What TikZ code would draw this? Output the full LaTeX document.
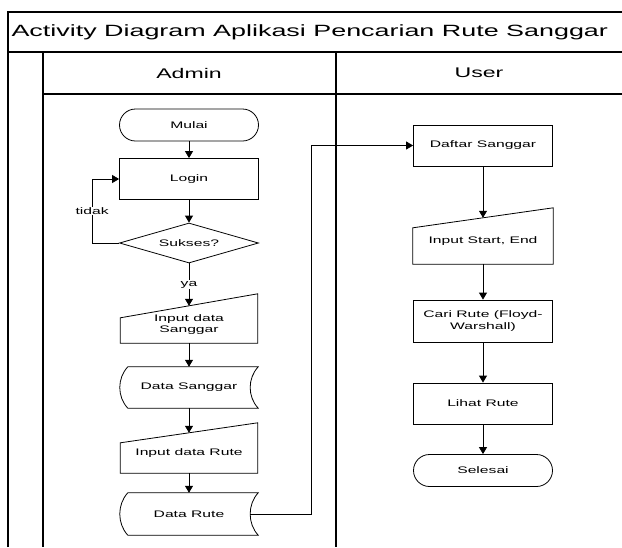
\documentclass[tikz,border=0pt]{standalone}
\usepackage{fontspec}
\newfontfamily\diagfont[FakeStretch=1.65]{Liberation Sans}
\usetikzlibrary{shapes.geometric, arrows.meta, positioning, calc}

% outlines for the flowchart symbols TikZ has no shape for
\newcommand{\manualin}[2]{\draw[line width=0.8pt] ([yshift=-#2]#1.north west) -- ([yshift=#2]#1.north east) -- (#1.south east) -- (#1.south west) -- cycle;}
\newcommand{\storedata}[1]{\draw[line width=0.8pt] ([xshift=8pt]#1.north west) -- (#1.north east) .. controls ([xshift=-10.7pt, yshift=-11.6pt]#1.north east) and ([xshift=-10.7pt, yshift=11.6pt]#1.south east) .. (#1.south east) -- ([xshift=8pt]#1.south west) .. controls ([xshift=-2.7pt, yshift=11.6pt]#1.south west) and ([xshift=-2.7pt, yshift=-11.6pt]#1.north west) .. ([xshift=8pt]#1.north west) -- cycle;}

\begin{document}
\begin{tikzpicture}[
    x=1pt, y=-1pt,
    font=\diagfont\fontsize{9.5pt}{11.5pt}\selectfont,
    lane/.style={line width=1.2pt},
    proc/.style={draw, rectangle, minimum width=139pt, minimum height=41pt, align=center, line width=0.8pt, inner sep=1pt},
    term/.style={draw, rectangle, rounded corners=16pt, minimum width=139pt, minimum height=32pt, line width=0.8pt},
    decision/.style={draw, diamond, aspect=3.5, minimum width=139pt, minimum height=40pt, inner sep=0pt, line width=0.8pt},
    manin/.style={rectangle, minimum width=137pt, align=center, inner sep=1pt},
    store/.style={rectangle, minimum width=138pt, minimum height=41pt, inner sep=1pt},
    arrow/.style={-{Triangle[width=8pt,length=7pt]}, line width=0.8pt},
    lbl/.style={fill=white, inner sep=1pt},
]
\useasboundingbox (0,0) rectangle (622,547);

% Swimlane frame
\draw[lane] (8,547) -- (8,12) -- (622,12);
\draw[lane] (8,52) -- (622,52);
\draw[lane] (43,52) -- (43,547);
\draw[lane] (336,52) -- (336,547);
\draw[lane] (43,94) -- (622,94);

% Headers
\node[anchor=west, font=\diagfont\fontsize{16.3pt}{19pt}\selectfont] (title) at (8,32) {Activity Diagram Aplikasi Pencarian Rute Sanggar};
\node[font=\diagfont\fontsize{14pt}{16pt}\selectfont] (admin) at (189,73) {Admin};
\node[font=\diagfont\fontsize{14pt}{16pt}\selectfont] (user) at (479,73) {User};

% Admin
\node[term] (mulai) at (189,125) {Mulai};
\node[proc] (login) at (189,179) {Login};
\node[decision] (sukses) at (189,243) {Sukses?};
\node[manin, minimum height=37pt] (indata) at (189,324.5) {Input data\\Sanggar};
\node[store] (datasgr) at (189,387.5) {Data Sanggar};
\node[manin, minimum height=40pt] (inrute) at (189,453) {Input data Rute};
\node[store, minimum height=42pt] (datarute) at (189,514) {Data Rute};

% User
\node[proc] (daftar) at (483,145.5) {Daftar Sanggar};
\node[manin, minimum width=140pt, minimum height=46pt] (inse) at (483,241) {Input Start, End};
\node[proc, minimum height=42pt] (cari) at (483,321) {Cari Rute (Floyd-\\Warshall)};
\node[proc] (lihat) at (483,403.5) {Lihat Rute};
\node[term] (selesai) at (483,470.5) {Selesai};

% Shapes
\manualin{indata}{12pt}
\manualin{inrute}{10pt}
\manualin{inse}{10pt}
\storedata{datasgr}
\storedata{datarute}

% Arrows
\draw[arrow] (mulai) -- (login);
\draw[arrow] (login) -- (sukses);
\draw[arrow] (sukses.west) -- ++(-27,0) |- node[lbl, pos=0.25] {tidak} (login.west);
\draw[arrow] (sukses) -- node[lbl] {ya} (indata);
\draw[arrow] (indata) -- (datasgr);
\draw[arrow] (datasgr) -- (inrute);
\draw[arrow] (inrute) -- (datarute);
\coordinate (turn) at (311,145.5);
\draw[arrow] ([xshift=-8pt]datarute.east) -| (turn) -- (daftar.west);
\draw[arrow] (daftar) -- (inse);
\draw[arrow] (inse) -- (cari);
\draw[arrow] (cari) -- (lihat);
\draw[arrow] (lihat) -- (selesai);

\end{tikzpicture}
\end{document}
